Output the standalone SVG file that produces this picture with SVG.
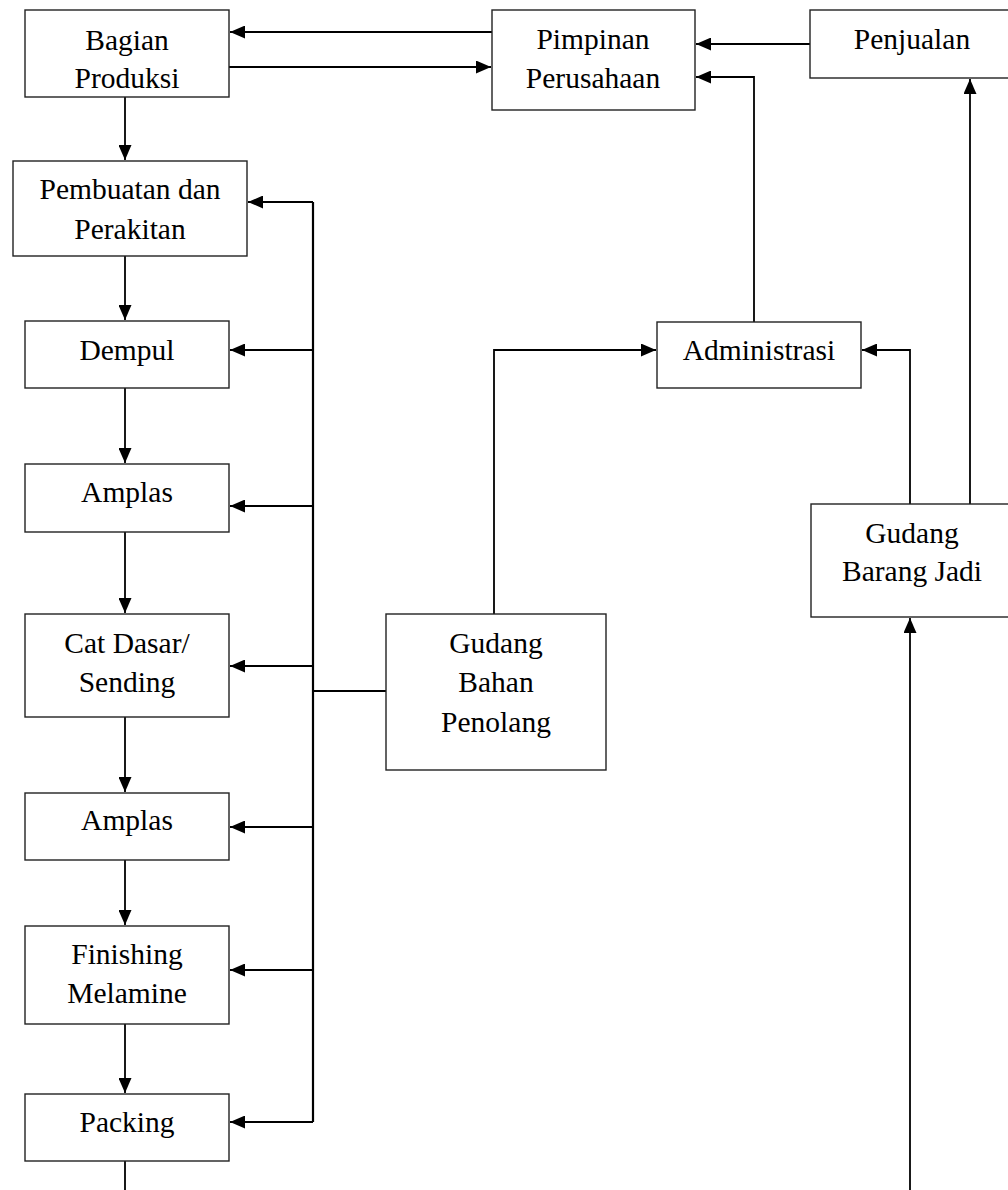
<svg xmlns="http://www.w3.org/2000/svg" width="1008" height="1190" viewBox="0 0 1008 1190">
<style>
.box{fill:#fff;stroke:#222;stroke-width:1.4}
.t{font-family:"Liberation Serif","Times New Roman",serif;font-size:29.5px;fill:#000;text-anchor:middle}
.c{fill:none;stroke:#000;stroke-width:1.8}
.a{marker-end:url(#ah)}
</style>
<defs>
<marker id="ah" viewBox="0 0 15 13" refX="15" refY="6.5" markerWidth="15" markerHeight="13" orient="auto" markerUnits="userSpaceOnUse">
<path d="M0,0 L15,6.5 L0,13 Z" fill="#000"/>
</marker>
</defs>
<rect width="1008" height="1190" fill="#fff"/>
<g id="connectors">
<path class="c a" d="M492,32 H230"/>
<path class="c a" d="M229,67 H491"/>
<path class="c a" d="M810,44 H696"/>
<path class="c a" d="M754,322 V77 H696"/>
<path class="c a" d="M494,614 V350 H656"/>
<path class="c a" d="M910,504 V350 H862"/>
<path class="c a" d="M970,504 V79"/>
<path class="c a" d="M910,1190 V618"/>
<path class="c a" d="M125,97 V160"/>
<path class="c a" d="M125,256 V320"/>
<path class="c a" d="M125,388 V463"/>
<path class="c a" d="M125,532 V613"/>
<path class="c a" d="M125,717 V792"/>
<path class="c a" d="M125,860 V925"/>
<path class="c a" d="M125,1024 V1093"/>
<path class="c" d="M125,1161 V1190"/>
<path class="c" d="M313,202 V1122" style="stroke-width:2.2"/>
<path class="c" d="M386,691 H313"/>
<path class="c a" d="M313,202 H248"/>
<path class="c a" d="M313,350 H230"/>
<path class="c a" d="M313,506 H230"/>
<path class="c a" d="M313,666 H230"/>
<path class="c a" d="M313,827 H230"/>
<path class="c a" d="M313,970 H230"/>
<path class="c a" d="M313,1122 H230"/>
</g>
<g id="bagian-produksi"><rect class="box" x="25" y="10" width="204" height="87"/><text class="t" x="127" y="50">Bagian</text><text class="t" x="127" y="88">Produksi</text></g>
<g id="pimpinan"><rect class="box" x="492" y="10" width="203" height="100"/><text class="t" x="593" y="49">Pimpinan</text><text class="t" x="593" y="88">Perusahaan</text></g>
<g id="penjualan"><rect class="box" x="810" y="10" width="204" height="68"/><text class="t" x="912" y="49">Penjualan</text></g>
<g id="pembuatan"><rect class="box" x="13" y="161" width="234" height="95"/><text class="t" x="130" y="199">Pembuatan dan</text><text class="t" x="130" y="239">Perakitan</text></g>
<g id="dempul"><rect class="box" x="25" y="321" width="204" height="67"/><text class="t" x="127" y="360">Dempul</text></g>
<g id="amplas1"><rect class="box" x="25" y="464" width="204" height="68"/><text class="t" x="127" y="502">Amplas</text></g>
<g id="cat-dasar"><rect class="box" x="25" y="614" width="204" height="103"/><text class="t" x="127" y="653">Cat Dasar/</text><text class="t" x="127" y="692">Sending</text></g>
<g id="amplas2"><rect class="box" x="25" y="793" width="204" height="67"/><text class="t" x="127" y="830">Amplas</text></g>
<g id="finishing"><rect class="box" x="25" y="926" width="204" height="98"/><text class="t" x="127" y="964">Finishing</text><text class="t" x="127" y="1003">Melamine</text></g>
<g id="packing"><rect class="box" x="25" y="1094" width="204" height="67"/><text class="t" x="127" y="1132">Packing</text></g>
<g id="administrasi"><rect class="box" x="657" y="322" width="204" height="66"/><text class="t" x="759" y="360">Administrasi</text></g>
<g id="gudang-bahan"><rect class="box" x="386" y="614" width="220" height="156"/><text class="t" x="496" y="653">Gudang</text><text class="t" x="496" y="692">Bahan</text><text class="t" x="496" y="732">Penolang</text></g>
<g id="gudang-barang-jadi"><rect class="box" x="811" y="504" width="204" height="113"/><text class="t" x="912" y="543">Gudang</text><text class="t" x="912" y="581">Barang Jadi</text></g>
</svg>
